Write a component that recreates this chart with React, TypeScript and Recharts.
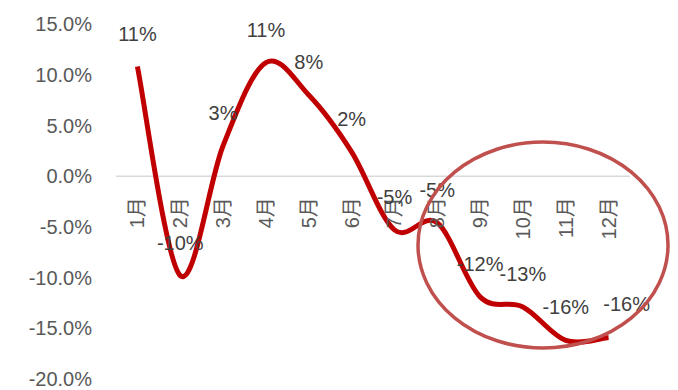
import React from "react";
import { LineChart, Line, XAxis, YAxis, ReferenceLine, LabelList } from "recharts";

const months = ["1月", "2月", "3月", "4月", "5月", "6月", "7月", "8月", "9月", "10月", "11月", "12月"];
const growth = [10.8, -9.8, 3.0, 11.2, 8.0, 2.4, -5.3, -4.6, -11.9, -12.9, -16.2, -15.9];
const yTicks = [-20, -15, -10, -5, 0, 5, 10, 15];

const W = 678;
const H = 390;
const MARGIN = { top: 24, right: 48, bottom: 10, left: 0 };
const Y_MIN = -20;
const Y_MAX = 15;
const FONT = "'Liberation Sans', 'Noto Sans CJK SC', sans-serif";
const HALF_BAND = 21.4;

const data = months.map((m, i) => ({ month: m, value: growth[i] }));

// x-axis crosses at 0 (Excel style), so push ticks up from the plot bottom
const plotH = H - MARGIN.top - MARGIN.bottom - 1;
const zeroShift = (plotH * (0 - Y_MIN)) / (Y_MAX - Y_MIN);

// Excel-like smoothed line (cardinal spline, tension 0)
const excelCurve = (context: any) => {
  let pts: number[][] = [];
  return {
    areaStart() {},
    areaEnd() {},
    lineStart() {
      pts = [];
    },
    point(x: number, y: number) {
      pts.push([+x, +y]);
    },
    lineEnd() {
      const n = pts.length;
      if (!n) return;
      context.moveTo(pts[0][0], pts[0][1]);
      for (let i = 0; i < n - 1; i++) {
        const p0 = pts[i - 1] || pts[i];
        const p1 = pts[i];
        const p2 = pts[i + 1];
        const p3 = pts[i + 2] || p2;
        context.bezierCurveTo(
          p1[0] + (p2[0] - p0[0]) / 6,
          p1[1] + (p2[1] - p0[1]) / 6,
          p2[0] - (p3[0] - p1[0]) / 6,
          p2[1] - (p3[1] - p1[1]) / 6,
          p2[0],
          p2[1]
        );
      }
    },
  };
};

const MonthTick = (props: any) => {
  const { x, y, payload } = props;
  const ty = y - zeroShift + 21;
  return (
    <text
      x={x}
      y={ty}
      transform={`rotate(-90, ${x}, ${ty})`}
      textAnchor="end"
      dominantBaseline="central"
      fontSize={20}
      fontFamily={FONT}
      fill="#595959"
    >
      {payload.value}
    </text>
  );
};

const ValueLabel = (props: any) => {
  const { x, y, value, index } = props;
  const dx = index === growth.length - 1 ? 18 : 0;
  return (
    <text
      x={x + dx}
      y={y - 33}
      textAnchor="middle"
      dominantBaseline="central"
      fontSize={20}
      fontFamily={FONT}
      fill="#404040"
    >
      {`${Math.round(value)}%`}
    </text>
  );
};

export default function App() {
  return (
    <div style={{ position: "fixed", left: 0, top: 0, width: W, height: H, background: "#fff" }}>
      <LineChart width={W} height={H} data={data} margin={MARGIN}>
        <XAxis
          dataKey="month"
          axisLine={false}
          tickLine={false}
          tickSize={0}
          tickMargin={0}
          height={1}
          interval={0}
          padding={{ left: HALF_BAND, right: HALF_BAND }}
          tick={<MonthTick />}
        />
        <YAxis
          domain={[Y_MIN, Y_MAX]}
          ticks={yTicks}
          interval={0}
          width={116}
          axisLine={false}
          tickLine={false}
          tickSize={0}
          tickMargin={24}
          tick={{ fontSize: 20, fontFamily: FONT, fill: "#595959" }}
          tickFormatter={(v: number) => `${v.toFixed(1)}%`}
        />
        <ReferenceLine y={0} stroke="#d9d9d9" strokeWidth={1.5} />
        <Line
          type={excelCurve as any}
          dataKey="value"
          stroke="#c00000"
          strokeWidth={5}
          dot={false}
          isAnimationActive={false}
        >
          <LabelList dataKey="value" content={<ValueLabel />} />
        </Line>
      </LineChart>
      <svg
        width={W}
        height={H}
        style={{ position: "absolute", left: 0, top: 0, pointerEvents: "none" }}
      >
        <ellipse cx={543} cy={245} rx={125} ry={103} fill="none" stroke="#c0504d" strokeWidth={3.5} />
      </svg>
    </div>
  );
}
